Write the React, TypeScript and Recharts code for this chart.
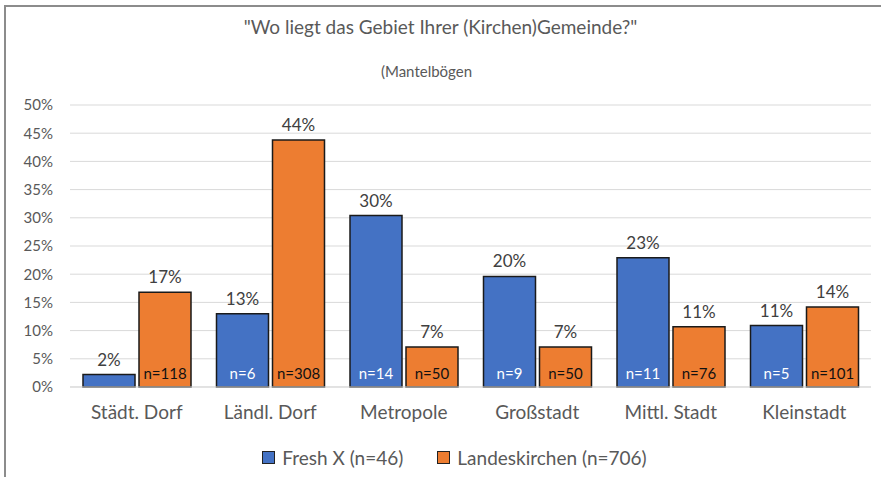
import React from 'react';
import { BarChart, Bar, XAxis, YAxis, CartesianGrid, LabelList } from 'recharts';

const categories = ['Städt. Dorf', 'Ländl. Dorf', 'Metropole', 'Großstadt', 'Mittl. Stadt', 'Kleinstadt'];
const freshX = [2.2, 13.0, 30.4, 19.6, 22.9, 10.9];
const landeskirchen = [16.8, 43.8, 7.1, 7.1, 10.7, 14.2];
const freshXN = [null, 6, 14, 9, 11, 5];
const landeskirchenN = [118, 308, 50, 50, 76, 101];
const yTicks = [0, 5, 10, 15, 20, 25, 30, 35, 40, 45, 50];
const seriesNames = ['Fresh X (n=46)', 'Landeskirchen (n=706)'];

const data = categories.map((name, i) => ({
  name,
  fresh: freshX[i],
  landes: landeskirchen[i],
  freshN: freshXN[i],
  landesN: landeskirchenN[i],
}));

const FONT = 'Lato, "Liberation Sans", sans-serif';
const BLUE = '#4472C4';
const ORANGE = '#ED7D31';

const nLabel = (color: string) => (props: any) => {
  const { x, y, width, height, value } = props;
  if (value == null) return null;
  return (
    <text
      x={x + width / 2}
      y={y + height - 14}
      fill={color}
      fontSize={15}
      fontFamily={FONT}
      textAnchor="middle"
      dominantBaseline="central"
    >
      {`n=${value}`}
    </text>
  );
};

export default function App() {
  return (
    <div style={{ position: 'absolute', left: 0, top: 0, width: 881, height: 477, background: '#fff', fontFamily: FONT }}>
      <div style={{ position: 'absolute', left: 5, top: 5, right: 0, height: 2, background: '#8c8c8c' }} />
      <div style={{ position: 'absolute', left: 4, top: 5, width: 2, bottom: 0, background: '#8c8c8c' }} />
      <div style={{ position: 'absolute', left: 0, width: 881, top: 15, textAlign: 'center', fontSize: 19, color: '#595959' }}>
        "Wo liegt das Gebiet Ihrer (Kirchen)Gemeinde?"
      </div>
      <div style={{ position: 'absolute', left: -14, width: 881, top: 62, textAlign: 'center', fontSize: 15, color: '#595959' }}>
        (Mantelbögen
      </div>
      <BarChart
        width={881}
        height={477}
        data={data}
        margin={{ top: 105, right: 10, bottom: 60, left: 8 }}
        barSize={52}
        barGap={4}
      >
        <CartesianGrid vertical={false} stroke="#d9d9d9" />
        <XAxis
          dataKey="name"
          height={30}
          tickLine={false}
          axisLine={{ stroke: '#d9d9d9' }}
          tickMargin={13}
          tick={{ fill: '#595959', fontSize: 19, fontFamily: FONT }}
          interval={0}
        />
        <YAxis
          width={62}
          domain={[0, 50]}
          ticks={yTicks}
          tickFormatter={(v: number) => `${v}%`}
          axisLine={false}
          tickLine={false}
          tickMargin={11}
          tick={{ fill: '#595959', fontSize: 15, fontFamily: FONT }}
        />
        <Bar dataKey="fresh" fill={BLUE} stroke="#1a1a1a" strokeWidth={1.5} isAnimationActive={false}>
          <LabelList dataKey="fresh" position="top" offset={9} fill="#404040" fontSize={17} fontFamily={FONT} formatter={(v: any) => `${Math.round(v)}%`} />
          <LabelList dataKey="freshN" content={nLabel('#ffffff')} />
        </Bar>
        <Bar dataKey="landes" fill={ORANGE} stroke="#1a1a1a" strokeWidth={1.5} isAnimationActive={false}>
          <LabelList dataKey="landes" position="top" offset={9} fill="#404040" fontSize={17} fontFamily={FONT} formatter={(v: any) => `${Math.round(v)}%`} />
          <LabelList dataKey="landesN" content={nLabel('#111111')} />
        </Bar>
      </BarChart>
      <div style={{ position: 'absolute', left: 14, width: 881, top: 446, display: 'flex', justifyContent: 'center', gap: 34, fontSize: 19, color: '#595959' }}>
        {seriesNames.map((label, i) => (
          <div key={label} style={{ display: 'flex', alignItems: 'center', gap: 7 }}>
            <span style={{ width: 11, height: 11, background: i === 0 ? BLUE : ORANGE, border: '1px solid #222', display: 'inline-block' }} />
            <span>{label}</span>
          </div>
        ))}
      </div>
    </div>
  );
}
